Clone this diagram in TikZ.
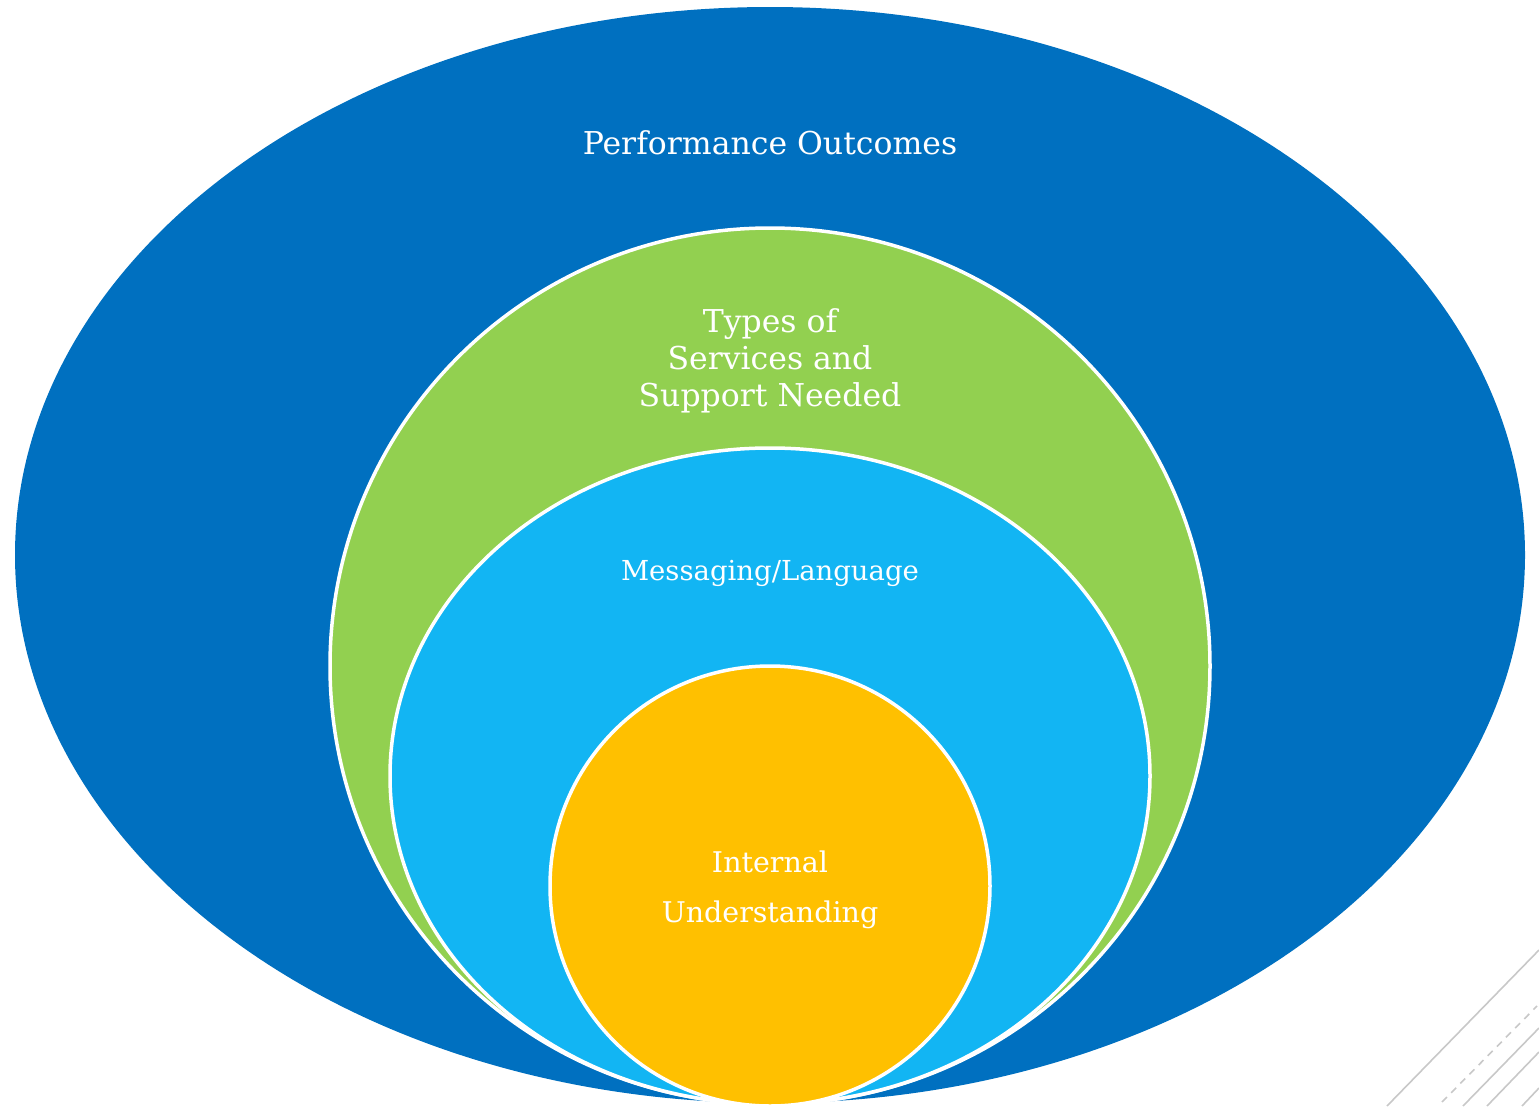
\documentclass[tikz,border=0pt]{standalone}
\usepackage{fontspec}
\setmainfont{DejaVu Serif}
\definecolor{outerblue}{HTML}{0070C0}
\definecolor{leafgreen}{HTML}{92D050}
\definecolor{skyblue}{HTML}{12B5F3}
\definecolor{amber}{HTML}{FFC000}
\definecolor{cornergray}{HTML}{C8C8C8}
\begin{document}
\begin{tikzpicture}[x=1pt,y=-1pt,
  ring/.style={draw=white,line width=3.5pt},
  lbl/.style={text=white,align=center,inner sep=0pt},
  corner/.style={draw=cornergray,line width=1.6pt}]
\useasboundingbox (0,0) rectangle (1539,1106);
% rings
\fill[outerblue] (770,555) ellipse [x radius=755,y radius=548];
\path[ring,fill=leafgreen] (770,666) ellipse [x radius=440,y radius=438];
\path[ring,fill=skyblue] (770,776) ellipse [x radius=380,y radius=328];
\path[ring,fill=amber] (770,886) ellipse [x radius=220,y radius=220];
% labels
\node[lbl,font=\fontsize{31.5}{37}\selectfont] (perf) at (770,143) {Performance Outcomes};
\node[lbl,font=\fontsize{31.5}{37}\selectfont] (types) at (770,361) {Types of\\Services and\\Support Needed};
\node[lbl,font=\fontsize{27.5}{30}\selectfont] (msg) at (770,573) {Messaging/Language};
\node[lbl,font=\fontsize{28.5}{50}\selectfont] (intl) at (770,890) {Internal\\Understanding};
% corner decoration
\coordinate (c1a) at (1387,1106); \coordinate (c1b) at (1539,950);
\coordinate (c2a) at (1442,1102); \coordinate (c2b) at (1537,1006);
\coordinate (c3a) at (1463,1106); \coordinate (c3b) at (1539,1028);
\coordinate (c4a) at (1487,1106); \coordinate (c4b) at (1539,1052);
\coordinate (c5a) at (1522,1106); \coordinate (c5b) at (1539,1088);
\draw[corner] (c1a) -- (c1b);
\draw[corner,dash pattern=on 7pt off 6pt] (c2a) -- (c2b);
\draw[corner] (c3a) -- (c3b);
\draw[corner] (c4a) -- (c4b);
\draw[corner] (c5a) -- (c5b);
\end{tikzpicture}
\end{document}
